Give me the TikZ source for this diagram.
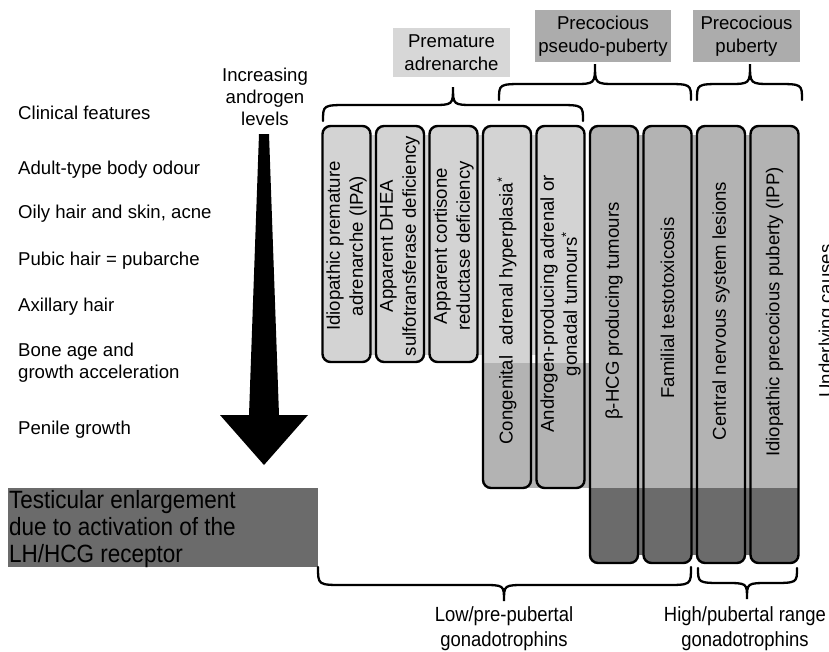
\documentclass[tikz,border=0pt]{standalone}
\usepackage{fontspec}
\setmainfont{Liberation Sans}
\newfontfamily\narrowfont{Liberation Sans}[FakeStretch=0.9]
\definecolor{lightg}{HTML}{D3D3D3}
\definecolor{midg}{HTML}{B3B3B3}
\definecolor{darkg}{HTML}{6B6B6B}
\definecolor{hdrlight}{HTML}{D7D7D7}
\definecolor{hdrmid}{HTML}{ACACAC}
\newcommand\drawbrace[6]{%
  \draw[bracestyle] (#1,#4) .. controls (#1,#5) .. (#1+26,#5) -- (#3-22,#5)
    .. controls (#3,#5) .. (#3,#6) .. controls (#3,#5) .. (#3+22,#5)
    -- (#2-26,#5) .. controls (#2,#5) .. (#2,#4);}
\newcommand\twotonecol[5]{% x, bottom y, split y, top colour, bottom colour
  \begin{scope}
    \clip[rounded corners=8pt] (#1,126) rectangle (#1+48,#2);
    \fill[#4] (#1,126) rectangle (#1+48,#3);
    \fill[#5] (#1,#3) rectangle (#1+48,#2);
  \end{scope}
  \draw[colborder] (#1,126) rectangle (#1+48,#2);}
\begin{document}
\begin{tikzpicture}[x=1pt,y=-1pt,
  txt/.style={font=\fontsize{18.6}{22}\selectfont, inner sep=0pt},
  coltxt/.style={rotate=90, align=center, inner sep=0pt, font=\fontsize{18.6}{23}\selectfont},
  colborder/.style={draw=black, line width=2.4pt, rounded corners=8pt},
  bracestyle/.style={draw=black, line width=2.3pt, line cap=round},
  hdr/.style={align=center, inner sep=0pt, font=\fontsize{18.6}{23}\selectfont},
  lowlab/.style={align=center, inner sep=0pt, font=\narrowfont\fontsize{20.5}{24.5}\selectfont}]
\useasboundingbox (0,0) rectangle (829,651);
\fill[white] (0,0) rectangle (829,651);

% background bands behind the columns
\fill[lightg] (330,135) rectangle (578,355);
\fill[midg] (490,363) rectangle (792,488);
\fill[midg] (597,135) rectangle (792,363);
\fill[darkg] (597,488) rectangle (792,555);

% columns
\twotonecol{322.5}{362}{362}{lightg}{lightg}
\twotonecol{376}{362}{362}{lightg}{lightg}
\twotonecol{429.5}{362}{362}{lightg}{lightg}
\twotonecol{483}{488}{363}{lightg}{midg}
\twotonecol{536.5}{488}{363}{lightg}{midg}
\twotonecol{590}{563}{488}{midg}{darkg}
\twotonecol{643.5}{563}{488}{midg}{darkg}
\twotonecol{697}{563}{488}{midg}{darkg}
\twotonecol{750.5}{563}{488}{midg}{darkg}

% column texts
\node[coltxt] (c1) at (346.5,246) {Idiopathic premature\\adrenarche (IPA)};
\node[coltxt] (c2) at (400,246) {Apparent DHEA\\sulfotransferase deficiency};
\node[coltxt] (c3) at (453.5,246) {Apparent cortisone\\reductase deficiency};
\node[coltxt] (c4) at (507,311) {Congenital\ \ adrenal hyperplasia\textsuperscript{*}};
\node[coltxt] (c5) at (560.5,304) {Androgen-producing adrenal or\\gonadal tumours\textsuperscript{*}};
\node[coltxt] (c6) at (614,311) {β-HCG producing tumours};
\node[coltxt] (c7) at (667.5,308) {Familial testotoxicosis};
\node[coltxt] (c8) at (721,311) {Central nervous system lesions};
\node[coltxt] (c9) at (774.5,312) {Idiopathic precocious puberty (IPP)};

% header labels
\node[hdr, fill=hdrlight, minimum width=117pt, minimum height=49pt] (h1) at (451.5,52.5) {Premature\\adrenarche};
\node[hdr, fill=hdrmid, minimum width=136pt, minimum height=52pt] (h2) at (603,36) {Precocious\\pseudo-puberty};
\node[hdr, fill=hdrmid, minimum width=107pt, minimum height=52pt] (h3) at (746.5,36) {Precocious\\puberty};

% upper braces
\drawbrace{323}{583}{453}{121}{105}{87}
\drawbrace{499}{691}{595}{100}{84}{64}
\drawbrace{697}{802}{750}{100}{84}{64}

% left clinical features
\node[txt, anchor=west] (l0) at (18,113) {Clinical features};
\node[txt, anchor=west] (l1) at (18,170) {Adult-type body odour};
\node[txt, anchor=west] (l2) at (18,214) {Oily hair and skin, acne};
\node[txt, anchor=west] (l3) at (18,261) {Pubic hair = pubarche};
\node[txt, anchor=west] (l4) at (18,307) {Axillary hair};
\node[txt, anchor=west, align=left] (l5) at (18,363) {Bone age and\\growth acceleration};
\node[txt, anchor=west] (l6) at (18,430) {Penile growth};

% arrow
\node[txt, align=center] (al) at (265,97) {Increasing\\androgen\\levels};
\fill[black] (259,134) -- (269,134) -- (279,415) -- (308,415) -- (264,465)
  -- (220,415) -- (249,415) -- cycle;

% testicular enlargement band
\fill[darkg] (8,488) rectangle (318,567);
\node[anchor=west, align=left, inner sep=0pt, font=\narrowfont\fontsize{25}{27}\selectfont] (te) at (9,529)
  {Testicular enlargement\\due to activation of the\\LH/HCG receptor};

% lower braces
\drawbrace{318}{691}{504}{567}{585}{601}
\drawbrace{698}{797}{747}{568}{583}{599}
\node[lowlab] (b1) at (504,628.5) {Low/pre-pubertal\\gonadotrophins};
\node[lowlab] (b2) at (745,628.5) {High/pubertal range\\gonadotrophins};

% cut-off side label
\node[txt, rotate=90, anchor=base] (uc) at (832,321) {Underlying causes};
\end{tikzpicture}
\end{document}
